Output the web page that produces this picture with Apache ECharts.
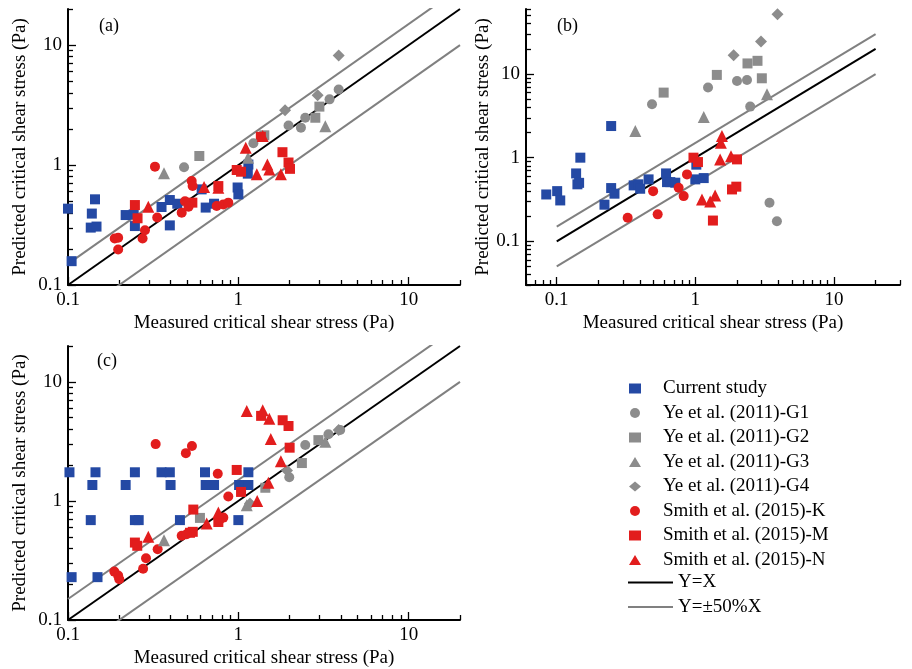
<!DOCTYPE html>
<html><head><meta charset="utf-8">
<script src="https://cdn.jsdelivr.net/npm/echarts@6/dist/echarts.min.js"></script>
<style>html,body{margin:0;padding:0;background:#fff}#c{width:912px;height:669px}</style>
</head><body><div id="c"></div>
<script>
// ---------- data (measured, predicted) ----------
// Panel (a)
const aCurrent = [[0.1,0.433],[0.105,0.158],[0.136,0.301],[0.138,0.394],[0.144,0.518],[0.147,0.307],[0.218,0.383],[0.243,0.388],[0.247,0.31],[0.354,0.447],[0.396,0.511],[0.396,0.314],[0.438,0.476],[0.609,0.627],[0.643,0.442],[0.72,0.476],[0.99,0.65],[1.0,0.57],[1.136,0.848],[1.145,1.01]];
const aYeG1 = [[0.48,0.96],[1.225,1.52],[1.97,2.14],[2.33,2.05],[2.47,2.48],[3.43,3.53],[3.88,4.27]];
const aYeG2 = [[0.59,1.19],[1.42,1.77],[2.83,2.48],[2.99,3.07]];
const aYeG3 = [[0.366,0.853],[1.14,1.15],[3.24,2.11]];
const aYeG4 = [[1.88,2.87],[2.92,3.81],[3.88,8.2]];
const aSmithK = [[0.188,0.244],[0.197,0.248],[0.197,0.198],[0.274,0.244],[0.283,0.286],[0.324,0.97],[0.334,0.365],[0.465,0.401],[0.486,0.5],[0.51,0.45],[0.532,0.736],[0.539,0.668],[0.746,0.455],[0.816,0.47],[0.873,0.486]];
const aSmithM = [[0.247,0.464],[0.256,0.36],[0.537,0.486],[0.763,0.668],[0.978,0.909],[1.037,0.88],[1.355,1.72],[1.815,1.28],[1.97,1.05],[2.01,0.93]];
const aSmithN = [[0.296,0.45],[0.629,0.656],[0.763,0.648],[1.105,1.396],[1.283,0.837],[1.39,1.745],[1.48,1.01],[1.52,0.92],[1.776,0.837]];
// Panel (b)
const bCurrent = [[0.084,0.363],[0.1007,0.398],[0.106,0.308],[0.138,0.648],[0.141,0.48],[0.145,0.5],[0.148,1.0],[0.221,0.274],[0.247,2.39],[0.247,0.433],[0.261,0.371],[0.359,0.466],[0.388,0.48],[0.40,0.425],[0.46,0.55],[0.615,0.648],[0.625,0.51],[0.66,0.51],[0.717,0.502],[1.017,0.825],[1.0,0.55],[1.15,0.57]];
const bYeG1 = [[0.487,4.35],[1.235,6.9],[2.0,8.27],[2.36,8.5],[2.49,4.08],[3.43,0.289],[3.88,0.174]];
const bYeG2 = [[0.591,6.0],[1.43,9.77],[2.38,13.4],[2.81,14.4],[3.02,8.9]];
const bYeG3 = [[0.369,2.08],[1.15,3.06],[3.29,5.73]];
const bYeG4 = [[1.89,16.8],[2.98,24.5],[3.92,52]];
const bSmithK = [[0.325,0.191],[0.496,0.398],[0.535,0.21],[0.758,0.437],[0.824,0.347],[0.871,0.631]];
const bSmithM = [[0.97,1.0],[1.045,0.886],[1.34,0.177],[1.84,0.417],[1.976,0.45],[2.0,0.954]];
const bSmithN = [[1.117,0.317],[1.28,0.30],[1.39,0.354],[1.51,0.954],[1.53,1.51],[1.557,1.815],[1.81,1.04]];
// Panel (c)
const cCurrent = [[0.102,1.74],[0.105,0.229],[0.136,0.69],[0.139,1.36],[0.145,1.74],[0.149,0.229],[0.218,1.36],[0.247,1.74],[0.247,0.69],[0.26,0.69],[0.354,1.74],[0.396,1.74],[0.4,1.36],[0.454,0.69],[0.637,1.74],[0.643,1.36],[0.72,1.36],[1.0,0.69],[1.01,1.36],[1.145,1.74],[1.145,1.36]];
const cYeG1 = [[1.99,1.58],[2.47,2.95],[3.38,3.63],[3.96,3.94]];
const cYeG2 = [[0.595,0.72],[1.44,1.29],[2.36,2.08],[2.95,3.24]];
const cYeG3 = [[0.366,0.467],[1.12,0.92],[3.24,3.14]];
const cYeG4 = [[1.17,0.95],[1.93,1.8],[3.88,3.94]];
const cSmithK = [[0.187,0.255],[0.197,0.236],[0.2,0.22],[0.276,0.269],[0.287,0.33],[0.327,3.0],[0.336,0.393],[0.465,0.51],[0.492,2.52],[0.497,0.525],[0.534,2.89],[0.757,1.69],[0.773,0.688],[0.816,0.724],[0.873,1.09]];
const cSmithM = [[0.247,0.447],[0.255,0.42],[0.52,0.54],[0.54,0.55],[0.544,0.846],[0.763,0.665],[0.978,1.82],[1.037,1.19],[1.36,5.18],[1.82,4.76],[1.97,4.26],[2.0,2.8]];
const cSmithN = [[0.296,0.5],[0.652,0.645],[0.763,0.8],[1.12,5.68],[1.29,1.0],[1.39,5.76],[1.5,1.42],[1.52,4.9],[1.55,3.31],[1.776,2.15]];
// reference lines
const lineYX = [[0.1,0.1],[20,20]];
const lineUp = [[0.1,0.15],[20,30]];
const lineLo = [[0.1,0.05],[20,10]];
// ticks
const majorTicks = [0.1, 1, 10];
const minorAC = [0.2,0.3,0.4,0.5,0.6,0.7,0.8,0.9,2,3,4,5,6,7,8,9,20];
const minorBx = [0.06,0.07,0.08,0.09,0.2,0.3,0.4,0.5,0.6,0.7,0.8,0.9,2,3,4,5,6,7,8,9,20,30];
const minorBy = [0.03,0.04,0.05,0.06,0.07,0.08,0.09,0.2,0.3,0.4,0.5,0.6,0.7,0.8,0.9,2,3,4,5,6,7,8,9,20,30,40,50,60];
const seriesNames = ['Current study','Ye et al. (2011)-G1','Ye et al. (2011)-G2','Ye et al. (2011)-G3','Ye et al. (2011)-G4','Smith et al. (2015)-K','Smith et al. (2015)-M','Smith et al. (2015)-N'];
const lineNames = ['Y=X','Y=±50%X'];
const xTitle = 'Measured critical shear stress (Pa)';
const yTitle = 'Predicted critical shear stress (Pa)';

// ---------- styles ----------
const FONT = '"Liberation Serif","Times New Roman",serif';
const BLUE = '#2449a4', RED = '#e21d1d', GRAY = '#8c8c8c';
const styles = [
  {c:BLUE, s:'rect', z:10}, {c:GRAY, s:'circle', z:11}, {c:GRAY, s:'rect', z:10},
  {c:GRAY, s:'triangle', z:12}, {c:GRAY, s:'diamond', z:12}, {c:RED, s:'circle', z:11},
  {c:RED, s:'rect', z:10}, {c:RED, s:'triangle', z:12}
];
const panels = [
  [aCurrent,aYeG1,aYeG2,aYeG3,aYeG4,aSmithK,aSmithM,aSmithN],
  [bCurrent,bYeG1,bYeG2,bYeG3,bYeG4,bSmithK,bSmithM,bSmithN],
  [cCurrent,cYeG1,cYeG2,cYeG3,cYeG4,cSmithK,cSmithM,cSmithN]
];
const fmt = v => String(+(+v).toPrecision(6));
const lg = v => Math.log10(v);

const grids = [
  {left:68, top:9, width:392, height:276},
  {left:526, top:9, width:374, height:276},
  {left:68, top:346, width:392, height:277}
];
const ranges = [
  {x:[0.1,20], y:[0.1,20], mx:minorAC, my:minorAC, yGap:38},
  {x:[0.06,30], y:[0.03,60], mx:minorBx, my:minorBy, yGap:32},
  {x:[0.1,20], y:[0.1,20], mx:minorAC, my:minorAC, yGap:38}
];
const xAxes = [], yAxes = [];
function mainAxis(dim, gi, r, name, gap) {
  return {
    type:'log', logBase:10, gridIndex:gi, min:r[0], max:r[1], position: dim==='x'?'bottom':'left',
    name:name, nameLocation:'middle', nameGap:gap,
    nameTextStyle:{fontFamily:FONT, fontSize:19, color:'#000'},
    axisLine:{show:true, onZero:false, lineStyle:{color:'#000', width:2}},
    axisTick:{show:false},
    axisLabel:{show:true, customValues:majorTicks, formatter:fmt, fontFamily:FONT, fontSize:19, color:'#000', margin:6},
    splitLine:{show:false}
  };
}
// tick-only axes in log10 space (value axes), so tick marks land at 2..9 positions
function tickAxis(dim, gi, r, vals, len) {
  const cv = vals.map(lg);
  return {
    type:'value', gridIndex:gi, min:lg(r[0]), max:lg(r[1]), position: dim==='x'?'bottom':'left',
    axisLine:{show:false, onZero:false},
    axisTick:{show:true, inside:true, length:len, lineStyle:{color:'#000', width:1.3}, customValues:cv},
    axisLabel:{show:false, customValues:cv},
    splitLine:{show:false}
  };
}
for (let i = 0; i < 3; i++) {
  const r = ranges[i];
  xAxes.push(mainAxis('x', i, r.x, xTitle, 29));
  yAxes.push(mainAxis('y', i, r.y, yTitle, r.yGap));
}
for (let i = 0; i < 3; i++) {
  const r = ranges[i];
  xAxes.push(tickAxis('x', i, r.x, majorTicks, 8));
  yAxes.push(tickAxis('y', i, r.y, majorTicks, 8));
  xAxes.push(tickAxis('x', i, r.x, r.mx, 5));
  yAxes.push(tickAxis('y', i, r.y, r.my, 5));
}

const series = [];
for (let p = 0; p < 3; p++) {
  series.push({type:'line', name:lineNames[0], xAxisIndex:p, yAxisIndex:p, data:lineYX, symbol:'none', itemStyle:{color:'rgba(0,0,0,0)'}, lineStyle:{color:'#000', width:2}, z:5, silent:true, clip:true});
  series.push({type:'line', name:lineNames[1], xAxisIndex:p, yAxisIndex:p, data:lineUp, symbol:'none', itemStyle:{color:'rgba(0,0,0,0)'}, lineStyle:{color:'#808080', width:2}, z:5, silent:true, clip:true});
  series.push({type:'line', name:lineNames[1], xAxisIndex:p, yAxisIndex:p, data:lineLo, symbol:'none', itemStyle:{color:'rgba(0,0,0,0)'}, lineStyle:{color:'#808080', width:2}, z:5, silent:true, clip:true});
  panels[p].forEach((d, k) => {
    const st = styles[k];
    series.push({
      type:'scatter', name:seriesNames[k], xAxisIndex:p, yAxisIndex:p, data:d,
      symbol:st.s, symbolSize: st.s==='rect'?10:(st.s==='circle'?10:12),
      itemStyle:{color:st.c, opacity:1}, z:st.z, clip:false
    });
  });
}

const chart = echarts.init(document.getElementById('c'), null, {renderer:'canvas'});
chart.setOption({
  backgroundColor:'#fff',
  animation:false,
  title:[
    {text:'(a)', left:94, top:12, textStyle:{fontFamily:FONT, fontSize:18, fontWeight:'normal', color:'#000'}},
    {text:'(b)', left:552, top:12, textStyle:{fontFamily:FONT, fontSize:18, fontWeight:'normal', color:'#000'}},
    {text:'(c)', left:92, top:347, textStyle:{fontFamily:FONT, fontSize:18, fontWeight:'normal', color:'#000'}}
  ],
  grid:grids,
  xAxis:xAxes,
  yAxis:yAxes,
  legend:[
    {data:seriesNames, orient:'vertical', left:629, top:379, padding:0, itemWidth:12, itemHeight:10, itemGap:5.5,
     selectedMode:false, textStyle:{fontFamily:FONT, fontSize:19, color:'#000', padding:[0,0,0,17]}},
    {data:lineNames, orient:'vertical', left:627, top:573, padding:0, itemWidth:45, itemHeight:10, itemGap:5.5,
     selectedMode:false, itemStyle:{opacity:0}, textStyle:{fontFamily:FONT, fontSize:19, color:'#000'}}
  ],
  series:series
});
</script></body></html>
